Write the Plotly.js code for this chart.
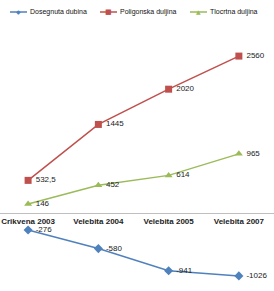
<!DOCTYPE html>
<html>
<head>
<meta charset="utf-8">
<script src="https://cdn.plot.ly/plotly-3.0.1.min.js"></script>
<style>html,body{margin:0;padding:0;background:#fff;}#chart{width:274px;height:291px;}</style>
</head>
<body>
<div id="chart"></div>
<script>
var categories = ["Crikvena 2003", "Velebita 2004", "Velebita 2005", "Velebita 2007"];
var dubina = [-276, -580, -941, -1026];
var poligonska = [532.5, 1445, 2020, 2560];
var tlocrtna = [146, 452, 614, 965];
var seriesNames = ["Dosegnuta dubina", "Poligonska duljina", "Tlocrtna duljina"];
var seriesColors = ["#4F81BD", "#C0504D", "#9BBB59"];
var seriesSymbols = ["diamond", "square", "triangle-up"];
var legendGlyphs = ["\u25C6", "\u25A0", "\u25B2"];

function fmt(v){ return " " + String(v).replace('.', ','); }

var yMin = -1272, yMax = 3475;
var fam = "Liberation Sans, Arial, sans-serif";
var lblFont = {family: fam, size: 8, color: "#222"};

var data = [dubina, poligonska, tlocrtna];
var traces = data.map(function(vals, i){
  return {x: categories, y: vals, name: seriesNames[i], type: "scatter", mode: "lines+markers+text",
    text: vals.map(fmt), textposition: "middle right", textfont: lblFont, cliponaxis: false,
    line: {color: seriesColors[i], width: 1.5},
    marker: {symbol: seriesSymbols[i], size: 7, color: seriesColors[i]}};
});

// custom one-row legend (layout decoration, paper coordinates)
var W = 274, H = 291;
var legY = 1 - 12 / H;
var legStarts = [10, 100, 190];
var shapes = [], annotations = [];
seriesNames.forEach(function(n, i){
  var x0 = legStarts[i], x1 = x0 + 17;
  shapes.push({type: "line", xref: "paper", yref: "paper", x0: x0 / W, x1: x1 / W, y0: legY, y1: legY,
               line: {color: seriesColors[i], width: 1.5}});
  annotations.push({xref: "paper", yref: "paper", x: (x0 + x1) / 2 / W, y: legY, text: legendGlyphs[i],
                    showarrow: false, xanchor: "center", yanchor: "middle",
                    font: {family: "DejaVu Sans", size: i === 1 ? 7 : 6, color: seriesColors[i]}});
  annotations.push({xref: "paper", yref: "paper", x: (x1 + 1) / W, y: legY, text: n,
                    showarrow: false, xanchor: "left", yanchor: "middle",
                    font: {family: fam, size: 7, color: "#111"}});
});

var layout = {
  width: W, height: H,
  margin: {l: 0, r: 0, t: 0, b: 0},
  paper_bgcolor: "#fff", plot_bgcolor: "#fff",
  showlegend: false,
  shapes: shapes, annotations: annotations,
  xaxis: {type: "category", range: [-0.4, 3.5], anchor: "free", position: (0 - yMin) / (yMax - yMin),
          showline: true, linecolor: "#BFBFBF", linewidth: 1, showgrid: false, zeroline: false,
          ticks: "", ticklabelstandoff: 0, tickfont: {family: fam, size: 8, color: "#222", weight: "bold"},
          fixedrange: true},
  yaxis: {range: [yMin, yMax], visible: false, showgrid: false, zeroline: false, fixedrange: true}
};

Plotly.newPlot("chart", traces, layout, {displayModeBar: false, staticPlot: true});
</script>
</body>
</html>
